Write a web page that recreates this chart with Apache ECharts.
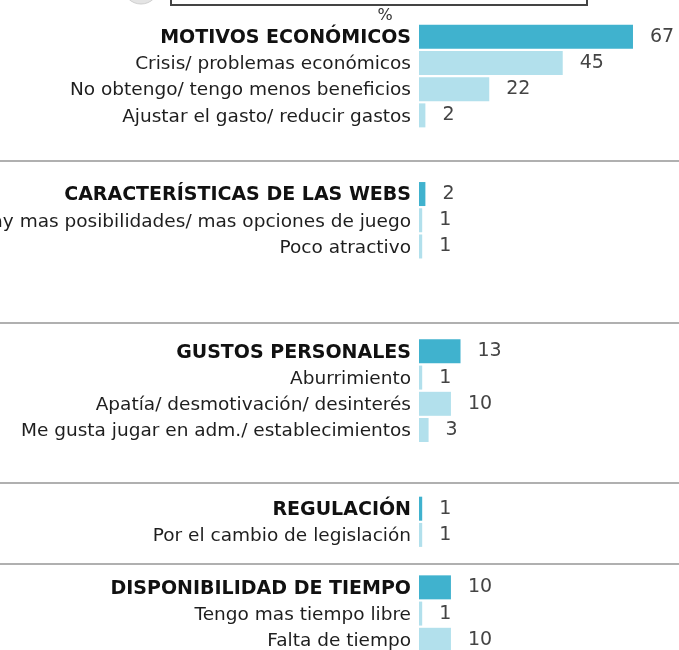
<!DOCTYPE html>
<html>
<head>
<meta charset="utf-8">
<script src="https://cdn.jsdelivr.net/npm/echarts@6/dist/echarts.min.js"></script>
<style>
    html, body {margin:0; padding:0; background:#fff;}
    #chart {width:679px; height:650px;}
</style>
</head>
<body>
<div id="chart"></div>
<script>
// filas del grafico, '' = hueco entre bloques
var rows = [
    'MOTIVOS ECONÓMICOS',
    'Crisis/ problemas económicos',
    'No obtengo/ tengo menos beneficios',
    'Ajustar el gasto/ reducir gastos',
    '', '',
    'CARACTERÍSTICAS DE LAS WEBS',
    'Hay mas posibilidades/ mas opciones de juego',
    'Poco atractivo',
    '', '', '',
    'GUSTOS PERSONALES',
    'Aburrimiento',
    'Apatía/ desmotivación/ desinterés',
    'Me gusta jugar en adm./ establecimientos',
    '', '',
    'REGULACIÓN',
    'Por el cambio de legislación',
    '',
    'DISPONIBILIDAD DE TIEMPO',
    'Tengo mas tiempo libre',
    'Falta de tiempo'
];
var values = [67, 45, 22, 2, null, null, 2, 1, 1, null, null, null, 13, 1, 10, 3, null, null, 1, 1, null, 10, 1, 10];
// 1 = titulo de bloque (negrita, color oscuro)
var isTitle = [1, 0, 0, 0, 0, 0, 1, 0, 0, 0, 0, 0, 1, 0, 0, 0, 0, 0, 1, 0, 0, 1, 0, 0];

var darkColor = 'rgb(64,178,206)';
var lightColor = 'rgb(178,224,236)';
var textFont = 'DejaVu Sans';

var barData = [];
for (var i = 0; i < values.length; i++) {
    barData.push({
        value: values[i],
        itemStyle: {color: isTitle[i] ? darkColor : lightColor}
    });
}

var option = {
    animation: false,
    backgroundColor: '#fff',
    grid: {
        left: 419,   //left
        top: 23.6,   //top
        width: 255.5,
        height: 629.3,
        outerBoundsMode: 'none'
    },
    xAxis: {
        type: 'value',
        min: 0,
        max: 80,
        show: false
    },
    yAxis: {
        type: 'category',
        data: rows,
        inverse: true,
        axisLine: {show: false},
        axisTick: {show: false},
        axisLabel: {
            margin: 8,
            interval: 0,
            formatter: function (v, idx) {
                if (!v) return '';
                return isTitle[idx] ? '{b|' + v + '}' : '{n|' + v + '}';
            },
            rich: {
                b: {fontFamily: textFont, fontSize: 19, fontWeight: 'bold', color: '#111', padding: [3, 0, 0, 0]},
                n: {fontFamily: textFont, fontSize: 18.5, color: '#1e1e1e', padding: [3, 0, 0, 0]}
            }
        }
    },
    series: [
        {
            type: 'bar',
            data: barData,
            barWidth: 24,
            label: {
                show: true,
                position: 'right',
                distance: 17,
                fontFamily: textFont,
                fontSize: 19,
                color: '#444',
                padding: [2, 0, 0, 0]
            }
        }
    ],
    graphic: [
        // caja cortada arriba
        {type: 'rect', shape: {x: 171, y: -30, width: 416, height: 35},
            style: {fill: 'none', stroke: '#444', lineWidth: 2}},
        {type: 'circle', shape: {cx: 141, cy: -14, r: 18},
            style: {fill: '#e4e4e4', stroke: '#d0d0d0', lineWidth: 1}},
        {type: 'text', x: 385, y: 16, style: {text: '%', font: '16px DejaVu Sans', fill: '#333', textAlign: 'center', textVerticalAlign: 'middle'}},
        // separadores
        {type: 'line', shape: {x1: 0, y1: 161, x2: 679, y2: 161}, style: {stroke: '#b0b0b0', lineWidth: 2}},
        {type: 'line', shape: {x1: 0, y1: 323, x2: 679, y2: 323}, style: {stroke: '#b0b0b0', lineWidth: 2}},
        {type: 'line', shape: {x1: 0, y1: 483, x2: 679, y2: 483}, style: {stroke: '#b0b0b0', lineWidth: 2}},
        {type: 'line', shape: {x1: 0, y1: 564, x2: 679, y2: 564}, style: {stroke: '#b0b0b0', lineWidth: 2}}
    ]
};

var myChart = echarts.init(document.getElementById('chart'));
myChart.setOption(option);
</script>
</body>
</html>
